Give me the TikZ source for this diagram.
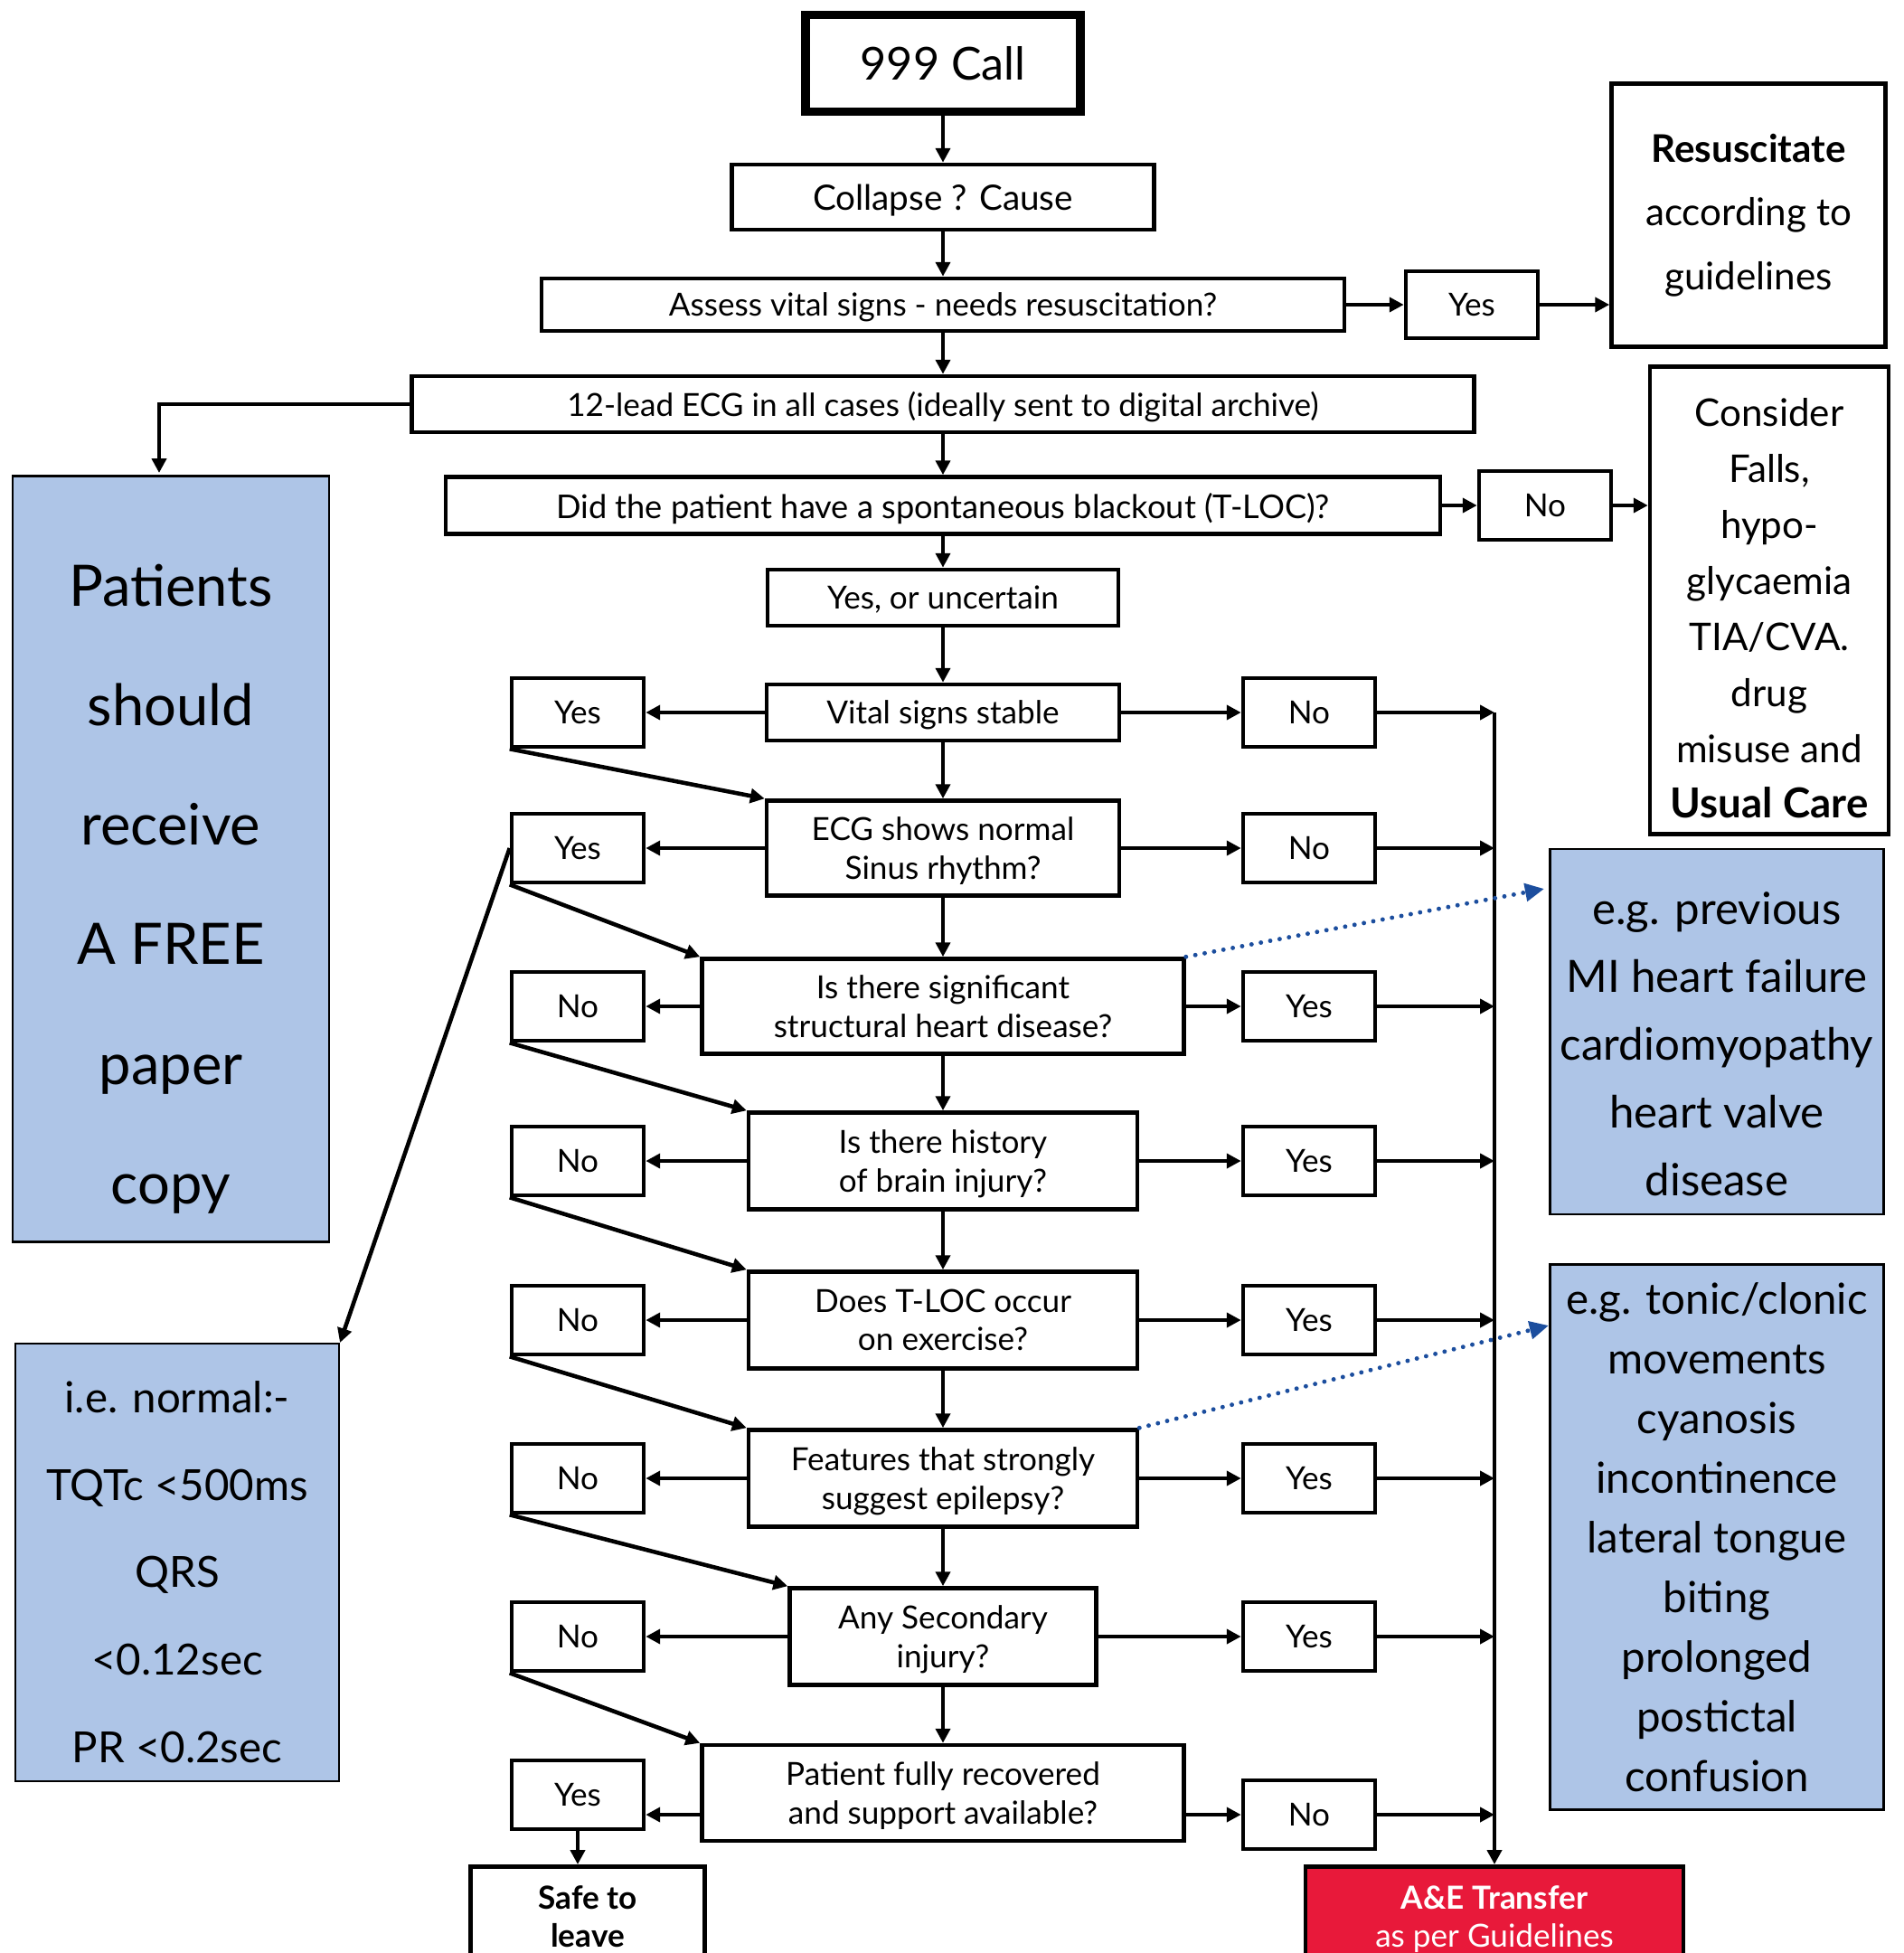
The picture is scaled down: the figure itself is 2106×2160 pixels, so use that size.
\documentclass[tikz,border=0pt]{standalone}
\usepackage{fontspec}
\setmainfont{Lato}
\usetikzlibrary{arrows.meta,calc}
\definecolor{boxblue}{RGB}{174,197,231}
\definecolor{aered}{RGB}{232,25,58}
\definecolor{dotblue}{RGB}{28,78,158}
\tikzset{
  flowbox/.style={draw,line width=1.3pt,align=center,inner sep=0pt,text depth=0pt,font=\fontsize{10}{12}\selectfont},
  answer/.style={flowbox,minimum width=14.6mm,minimum height=7.6mm},
  infobox/.style={draw,line width=0.6pt,fill=boxblue,align=center,inner sep=0pt},
  flow/.style={-{Triangle[length=4.5pt,width=4.5pt]},line width=1.3pt},
  hint/.style={-{Triangle[length=6pt,width=5.5pt]},dotblue,line width=1.4pt,line cap=round,dash pattern=on 0pt off 3pt},
}
\begin{document}
\begin{tikzpicture}[x=0.1mm,y=-0.1mm]
\useasboundingbox (0,0) rectangle (2106,2160);

% main column
\node[flowbox,line width=2.7pt,minimum width=30.4mm,minimum height=10.7mm,font=\fontsize{14.3}{17}\selectfont] (call) at (1043,70) {999 Call};
\node[flowbox,minimum width=46.7mm,minimum height=7.2mm,font=\fontsize{11}{13}\selectfont] (collapse) at (1043,218) {Collapse ? Cause};
\node[flowbox,minimum width=88.8mm,minimum height=5.8mm] (assess) at (1043,337) {Assess vital signs - needs resuscitation?};
\node[flowbox,minimum width=117.5mm,minimum height=6.2mm] (ecg12) at (1043,447) {12-lead ECG in all cases (ideally sent to digital archive)};
\node[flowbox,minimum width=110mm,minimum height=6.3mm,font=\fontsize{10.3}{12}\selectfont] (did) at (1043,559) {Did the patient have a spontaneous blackout (T-LOC)?};
\node[flowbox,minimum width=38.8mm,minimum height=6.2mm] (unc) at (1043,661) {Yes, or uncertain};
\node[flowbox,minimum width=39mm,minimum height=6.2mm] (q1) at (1043,788) {Vital signs stable};
\node[flowbox,minimum width=39mm,minimum height=10.5mm] (q2) at (1043,938) {ECG shows normal\\Sinus rhythm?};
\node[flowbox,minimum width=53.3mm,minimum height=10.5mm] (q3) at (1043,1113) {Is there significant\\structural heart disease?};
\node[flowbox,minimum width=43mm,minimum height=10.7mm] (q4) at (1043,1284) {Is there history\\of brain injury?};
\node[flowbox,minimum width=43mm,minimum height=10.7mm] (q5) at (1043,1460) {Does T-LOC occur\\on exercise?};
\node[flowbox,minimum width=43mm,minimum height=10.7mm] (q6) at (1043,1635) {Features that strongly\\suggest epilepsy?};
\node[flowbox,minimum width=33.9mm,minimum height=10.7mm] (q7) at (1043,1810) {Any Secondary\\injury?};
\node[flowbox,minimum width=53.3mm,minimum height=10.6mm] (q8) at (1043,1983) {Patient fully recovered\\and support available?};

% top right outcomes
\node[answer,minimum height=7.4mm] (resyes) at (1628,337) {Yes};
\node[flowbox,text depth=,minimum width=30.3mm,minimum height=29.1mm,font=\fontsize{12}{20}\selectfont] (resus) at (1934,238) {{\bfseries Resuscitate}\\according to\\guidelines};
\node[answer] (tlocno) at (1709,559) {No};
\node[flowbox,text depth=,minimum width=26.4mm,minimum height=51.7mm,font=\fontsize{12}{17.6}\selectfont] (consider) at (1957,664) {\rule{0pt}{14pt}Consider\\Falls,\\hypo-\\glycaemia\\TIA/CVA.\\drug\\misuse and\\{\bfseries\fontsize{13}{17.6}\selectfont Usual Care}};

% yes / no answers
\foreach \n/\yl/\yr/\l/\r in {1/788/788/Yes/No,2/938/938/Yes/No,3/1113/1113/No/Yes,4/1284/1284/No/Yes,
  5/1460/1460/No/Yes,6/1635/1635/No/Yes,7/1810/1810/No/Yes,8/1985/2007/Yes/No}{
  \node[answer] (l\n) at (639,\yl) {\l};
  \node[answer] (r\n) at (1448,\yr) {\r};
}

% end points
\node[flowbox,anchor=north,minimum width=25.9mm,minimum height=11mm,font=\bfseries\fontsize{10}{12}\selectfont] (safe) at (650,2062) {Safe to\\leave};
\node[flowbox,anchor=north,fill=aered,text=white,minimum width=41.8mm,minimum height=11mm] (ae) at (1653,2062) {{\bfseries A\&E Transfer}\\as per Guidelines};

% blue notes
\node[infobox,minimum width=35mm,minimum height=84.7mm,font=\fontsize{18}{37.6}\selectfont] (patients) at (189,950) {\rule{0pt}{32pt}Patients\\should\\receive\\A FREE\\paper\\copy};
\node[infobox,minimum width=35.8mm,minimum height=48.4mm,font=\fontsize{13.5}{27.5}\selectfont] (ienorm) at (196,1728) {\rule{0pt}{16pt}i.e. normal:-\\TQTc <500ms\\QRS\\<0.12sec\\PR <0.2sec};
\node[infobox,minimum width=36.9mm,minimum height=40.4mm,font=\fontsize{14}{21.4}\selectfont] (prev) at (1899,1141) {\rule{0pt}{18pt}e.g. previous\\MI heart failure\\cardiomyopathy\\heart valve\\disease};
\node[infobox,minimum width=36.9mm,minimum height=60.3mm,font=\fontsize{13.5}{18.8}\selectfont] (tonic) at (1899,1700) {e.g. tonic/clonic\\movements\\cyanosis\\incontinence\\lateral tongue\\biting\\prolonged\\postictal\\confusion};

\coordinate (pattop) at (176,523);
\coordinate (prevtip) at (1708,983);
\coordinate (tonictip) at (1713,1466);

% connectors
\foreach \a/\b in {call/collapse,collapse/assess,assess/ecg12,ecg12/did,did/unc,unc/q1,
  q1/q2,q2/q3,q3/q4,q4/q5,q5/q6,q6/q7,q7/q8}
  \draw[flow] (\a.south) -- (\b.north);
\draw[flow] (assess.east) -- (resyes.west);
\draw[flow] (resyes.east) -- (resyes.east -| resus.west);
\draw[flow] (did.east) -- (tlocno.west);
\draw[flow] (tlocno.east) -- (tlocno.east -| consider.west);
\draw[flow] (ecg12.west) -| (pattop);

\foreach \n [evaluate=\n as \m using int(\n+1)] in {1,...,7}{
  \draw[flow] (q\n.west) -- (l\n.east);
  \draw[flow] (q\n.east) -- (r\n.west);
  \draw[flow] (r\n.east) -- (r\n.east -| ae.north);
  \draw[flow] (l\n.south west) -- (q\m.north west);
}
\draw[flow] (r8.west -| q8.west) -- (r8.west -| l8.east);
\draw[flow] (r8.west -| q8.east) -- (r8.west);
\draw[flow] (r8.east) -- (r8.east -| ae.north);
\draw[flow] (r1.east -| ae.north) -- (ae.north);
\draw[flow] (l8.south) -- (l8.south |- safe.north);
\draw[flow] (l2.west) -- (ienorm.north east);

\draw[hint] (q3.north east) -- (prevtip);
\draw[hint] (q6.north east) -- (tonictip);
\end{tikzpicture}
\end{document}
